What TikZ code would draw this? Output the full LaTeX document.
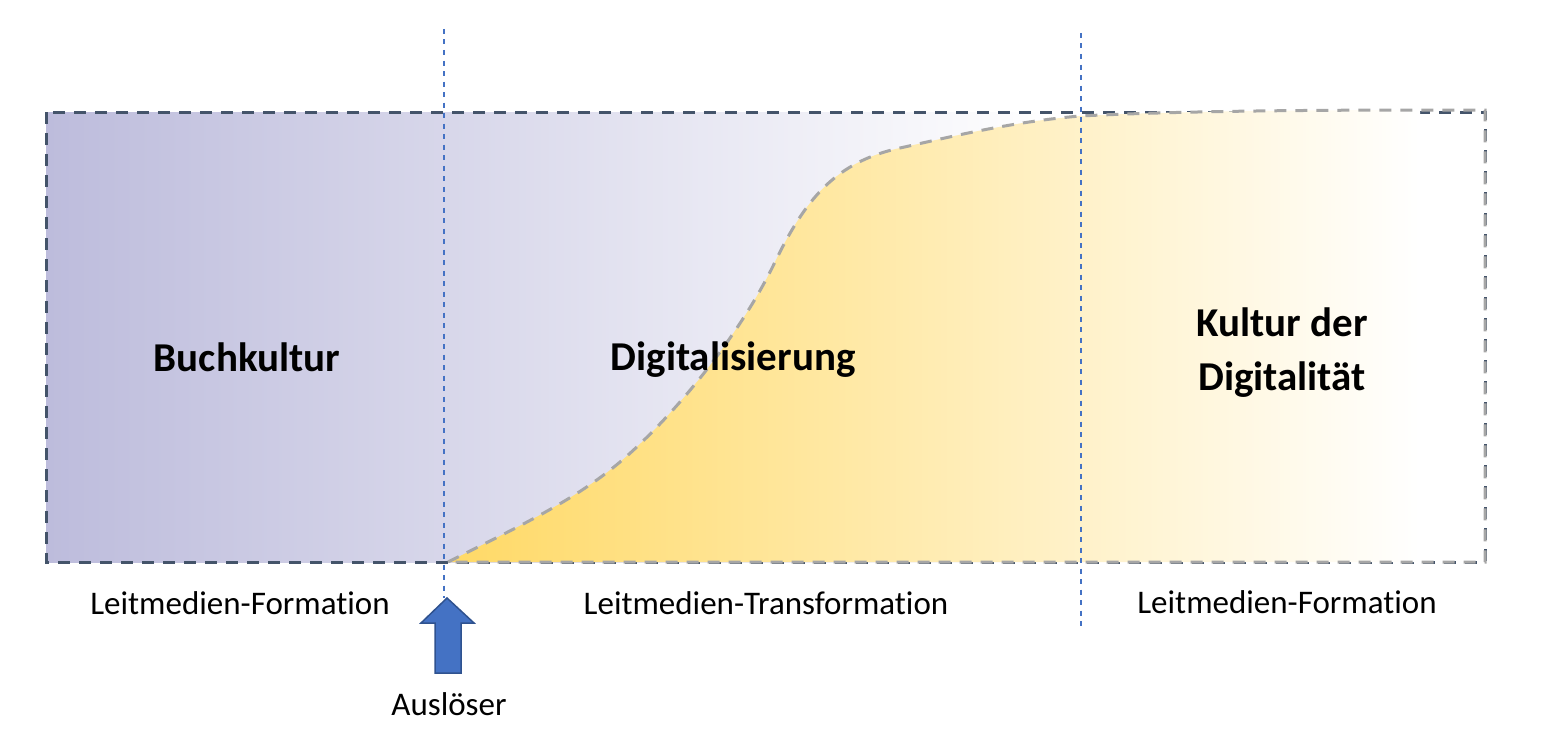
\documentclass[tikz,border=0pt]{standalone}
\usepackage{fontspec}
\setmainfont[Ligatures={NoCommon}]{Carlito}
\definecolor{lila}{HTML}{BDBCDC}
\definecolor{gold}{HTML}{FFD966}
\definecolor{darkborder}{HTML}{44546A}
\definecolor{grayborder}{HTML}{A6A6A6}
\definecolor{guideblue}{HTML}{4472C4}
\definecolor{arrowblue}{HTML}{4472C4}
\definecolor{arrowedge}{HTML}{2F528F}
\tikzset{
  darkdash/.style={draw=darkborder, line width=3bp, dash pattern=on 12bp off 9bp},
  graydash/.style={draw=grayborder, line width=3bp, dash pattern=on 12bp off 9bp},
  guide/.style={draw=guideblue, line width=1.2bp, dash pattern=on 5bp off 5.5bp},
  title/.style={font=\fontsize{41bp}{54bp}\selectfont\bfseries, text=black, inner sep=0pt},
  label/.style={font=\fontsize{33bp}{40bp}\selectfont, text=black, inner sep=0pt},
}
\begin{document}
\begin{tikzpicture}[x=1bp, y=-1bp]
\useasboundingbox (0,0) rectangle (1565,744);
% purple background block
\shade[left color=lila, right color=white] (46,112) rectangle (1050,562);
\path[darkdash] (46,112) rectangle (1485,562);
% yellow S-curve area
\def\curvepath{(448,562) .. controls (520,526) and (575,500) .. (620,462)
  .. controls (665,424) and (735,345) .. (775,262)
  .. controls (805,200) and (835,162) .. (900,148)
  .. controls (950,137) and (1010,122) .. (1080,116)
  .. controls (1200,110) and (1350,110) .. (1485,110)
  -- (1485,562) -- cycle}
\begin{scope}
  \clip \curvepath;
  \shade[left color=gold, right color=white] (448,105) rectangle (1420,565);
\end{scope}
\path[graydash] \curvepath;
% guide lines
\coordinate (g1top) at (444,29);
\coordinate (g2top) at (1081,33);
\coordinate (g2bot) at (1081,628);
% trigger arrow
\path[fill=arrowblue, draw=arrowedge, line width=1.5bp] (447,598) -- (474,623) -- (461,623) -- (461,673) -- (435,673) -- (435,623) -- (421,623) -- cycle;
\coordinate (tip) at (444,598);
\draw[guide] (g1top) -- (tip);
\draw[guide] (g2top) -- (g2bot);
% texts
\node[title, anchor=base] (buch) at (247,371) {Buchkultur};
\node[title, anchor=base] (dig) at (733,370) {Digitalisierung};
\node[title, align=center, anchor=center] (kdd) at (1282,353) {Kultur der\\Digitalität};
\node[label, anchor=base] (lf1) at (240,614) {Leitmedien-Formation};
\node[label, anchor=base] (lt) at (766,614) {Leitmedien-Transformation};
\node[label, anchor=base] (lf2) at (1287,613) {Leitmedien-Formation};
\node[label, anchor=base] (aus) at (449,715) {Auslöser};
\end{tikzpicture}
\end{document}
